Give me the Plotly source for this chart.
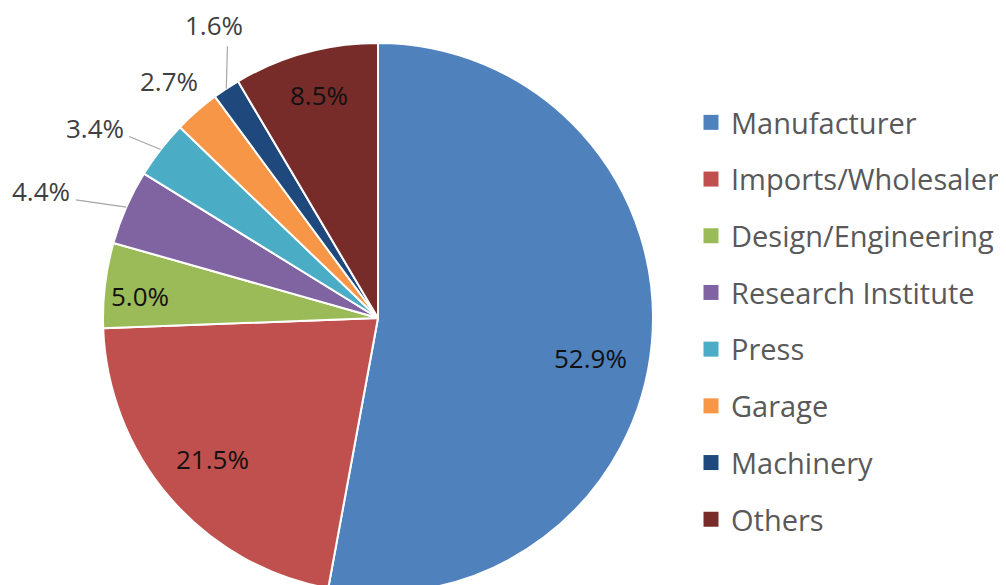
import math
import plotly.graph_objects as go

# ---- data ----
categories = ["Manufacturer", "Imports/Wholesaler", "Design/Engineering",
              "Research Institute", "Press", "Garage", "Machinery", "Others"]
shares = [52.9, 21.5, 5.0, 4.4, 3.4, 2.7, 1.6, 8.5]
colors = ["#4F81BD", "#C0504D", "#9BBB59", "#8064A2",
          "#4BACC6", "#F79646", "#1F497D", "#772C2A"]

# ---- layout geometry (page pixels) ----
OFF = 8                 # page body margin
W, H = 998, 592
CX, CY, R = 378, 318, 275

# per-slice label placement: (radial factor, angle tweak in degrees, inside?)
label_place = [(0.785, 5.5, True), (0.79, 0.4, True), (0.87, -1.5, True),
               (1.31, -3.1, False), (1.24, -3.9, False), (1.15, -0.2, False),
               (1.22, 4.2, False), (0.84, 0.5, True)]
# leader lines: (end radial factor, end angle tweak) or None
leaders = [None, None, None, (1.18, -2.4), (1.12, -1.7), None, (1.13, 4.5), None]


def px(x, y):
    return (x - OFF) / W, 1 - (y - OFF) / H


fig = go.Figure()
x0d, y1d = px(CX - R, CY - R)
x1d, y0d = px(CX + R, CY + R)
fig.add_trace(go.Pie(
    labels=categories, values=shares, sort=False, direction="clockwise",
    rotation=0, marker=dict(colors=colors, line=dict(color="white", width=2)),
    textinfo="none", hoverinfo="label+percent", showlegend=False,
    domain=dict(x=[x0d, x1d], y=[max(0, y0d), y1d]),
))

# legend via marker-only traces
for cat, col in zip(categories, colors):
    fig.add_trace(go.Scatter(x=[None], y=[None], mode="markers", name=cat,
                             legendgroup=cat,
                             marker=dict(symbol="square", size=15, color=col)))

total = sum(shares)
cum = 0.0
annotations = []
shapes = []
for i, v in enumerate(shares):
    mid = (cum + v / 2) / total * 360.0
    cum += v
    f, dt, inside = label_place[i]
    a = math.radians(mid + dt)
    lx, ly = CX + R * f * math.sin(a), CY - R * f * math.cos(a)
    x, y = px(lx, ly)
    annotations.append(dict(
        x=x, y=y, xref="paper", yref="paper", text=f"{v:.1f}%", showarrow=False,
        xanchor="center", yanchor="middle", borderpad=0,
        font=dict(family="Open Sans", size=26, color="#111111" if inside else "#404040")))
    if leaders[i] is not None:
        am = math.radians(mid)
        xa, ya = px(CX + R * 1.0 * math.sin(am), CY - R * 1.0 * math.cos(am))
        fe, de = leaders[i]
        ae = math.radians(mid + de)
        xb, yb = px(CX + R * fe * math.sin(ae), CY - R * fe * math.cos(ae))
        shapes.append(dict(type="line", xref="paper", yref="paper",
                           x0=xa, y0=ya, x1=xb, y1=yb,
                           line=dict(color="#a6a6a6", width=1.2)))

fig.update_layout(
    width=W, height=H, margin=dict(l=0, r=0, t=0, b=0),
    paper_bgcolor="white", plot_bgcolor="white",
    xaxis=dict(visible=False), yaxis=dict(visible=False),
    annotations=annotations, shapes=shapes,
    legend=dict(x=px(691, 0)[0], y=px(0, 97)[1], xanchor="left", yanchor="top",
                font=dict(family="Open Sans", size=29, color="#595959"),
                tracegroupgap=16, itemclick=False),
)

fig.write_html("out.html")
